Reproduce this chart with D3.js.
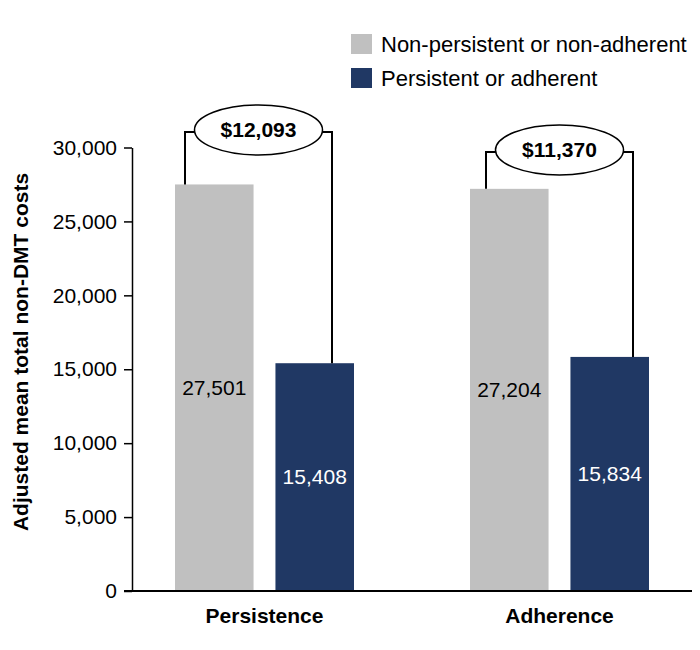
<!DOCTYPE html>
<html>
<head>
<meta charset="utf-8">
<script src="https://cdn.jsdelivr.net/npm/d3@7"></script>
<style>
  body { margin: 0; background: #fff; }
  svg { display: block; }
  text { font-family: Arial, "Liberation Sans", sans-serif; }
</style>
</head>
<body>
<div id="chart"></div>
<script>
// ---- data ----
const categories = ["Persistence", "Adherence"];
const seriesNames = ["Non-persistent or non-adherent", "Persistent or adherent"];
const nonPersistentValues = [27501, 27204];
const persistentValues = [15408, 15834];
const differenceLabels = ["$12,093", "$11,370"];
const bracketLevels = [31050, 29700]; // data units where the difference bracket sits
const yTicks = [0, 5000, 10000, 15000, 20000, 25000, 30000];
const colors = ["#c0c0c0", "#203864"];
const labelColors = ["#000000", "#ffffff"];

const W = 700, H = 650;
const FONT = "Arial, 'Liberation Sans', sans-serif";
const svg = d3.select("#chart").append("svg").attr("width", W).attr("height", H);

const y = d3.scaleLinear().domain([0, 30000]).range([591, 147.5]);
const x0 = d3.scaleBand().domain(categories).range([117, 707]).paddingInner(0).paddingOuter(0);
const x1 = d3.scaleBand().domain(seriesNames).range([58, 237]).paddingInner(0.218).paddingOuter(0);

const rows = categories.map((c, i) => ({
  cat: c,
  vals: [nonPersistentValues[i], persistentValues[i]],
  diff: differenceLabels[i],
  level: bracketLevels[i]
}));

// bars
const g = svg.append("g");
rows.forEach(r => {
  r.vals.forEach((v, j) => {
    const bx = x0(r.cat) + x1(seriesNames[j]);
    g.append("rect")
      .attr("x", bx).attr("y", y(v))
      .attr("width", x1.bandwidth()).attr("height", y(0) - y(v))
      .attr("fill", colors[j]);
    g.append("text")
      .attr("x", bx + x1.bandwidth() / 2)
      .attr("y", (y(v) + y(0)) / 2)
      .attr("dy", "0.35em")
      .attr("text-anchor", "middle")
      .attr("font-size", 21)
      .attr("fill", labelColors[j])
      .text(d3.format(",")(v));
  });
});

// brackets
const leftInset = [10, 16];
const rightInset = [22, 16];
rows.forEach((r, i) => {
  const gx = x0(r.cat) + x1(seriesNames[0]) + leftInset[i];
  const nx = x0(r.cat) + x1(seriesNames[1]) + x1.bandwidth() - rightInset[i];
  const by = y(r.level);
  svg.append("path")
    .attr("d", `M${gx},${y(r.vals[0])}V${by}H${nx}V${y(r.vals[1])}`)
    .attr("fill", "none").attr("stroke", "#000").attr("stroke-width", 2);
  const cx = (gx + nx) / 2;
  svg.append("ellipse")
    .attr("cx", cx).attr("cy", by - 2)
    .attr("rx", 64).attr("ry", 25)
    .attr("fill", "#fff").attr("stroke", "#000").attr("stroke-width", 1.5);
  svg.append("text")
    .attr("x", cx).attr("y", by - 2).attr("dy", "0.35em")
    .attr("text-anchor", "middle")
    .attr("font-size", 21).attr("font-weight", "bold")
    .text(r.diff);
});

// y axis
const yAxis = svg.append("g")
  .attr("transform", "translate(132,0)")
  .call(d3.axisLeft(y).tickValues(yTicks).tickFormat(d3.format(",")).tickSize(8).tickSizeOuter(0).tickPadding(7));
yAxis.select(".domain").attr("stroke", "#000").attr("stroke-width", 1.5);
yAxis.selectAll(".tick line").attr("stroke", "#000").attr("stroke-width", 1.5);
yAxis.selectAll(".tick text").attr("font-size", 21).attr("fill", "#000").attr("font-family", FONT);

// x axis
const xAxis = svg.append("g")
  .attr("transform", "translate(0,591)")
  .call(d3.axisBottom(x0).tickSize(0).tickPadding(17));
xAxis.select(".domain").remove();
xAxis.selectAll(".tick text").attr("font-size", 21).attr("font-weight", "bold").attr("fill", "#000")
  .attr("font-family", FONT);
svg.append("line")
  .attr("x1", 124).attr("x2", 692).attr("y1", 591).attr("y2", 591)
  .attr("stroke", "#000").attr("stroke-width", 2);

// y title
svg.append("text")
  .attr("transform", "translate(28,352) rotate(-90)")
  .attr("text-anchor", "middle")
  .attr("font-size", 21).attr("font-weight", "bold")
  .text("Adjusted mean total non-DMT costs");

// legend
const legend = svg.append("g").attr("transform", "translate(351,34)");
seriesNames.forEach((s, j) => {
  legend.append("rect").attr("x", 0).attr("y", j * 34).attr("width", 21).attr("height", 20).attr("fill", colors[j]);
  legend.append("text").attr("x", 30).attr("y", j * 34 + 10).attr("dy", "0.35em")
    .attr("font-size", 22).text(s);
});
</script>
</body>
</html>
